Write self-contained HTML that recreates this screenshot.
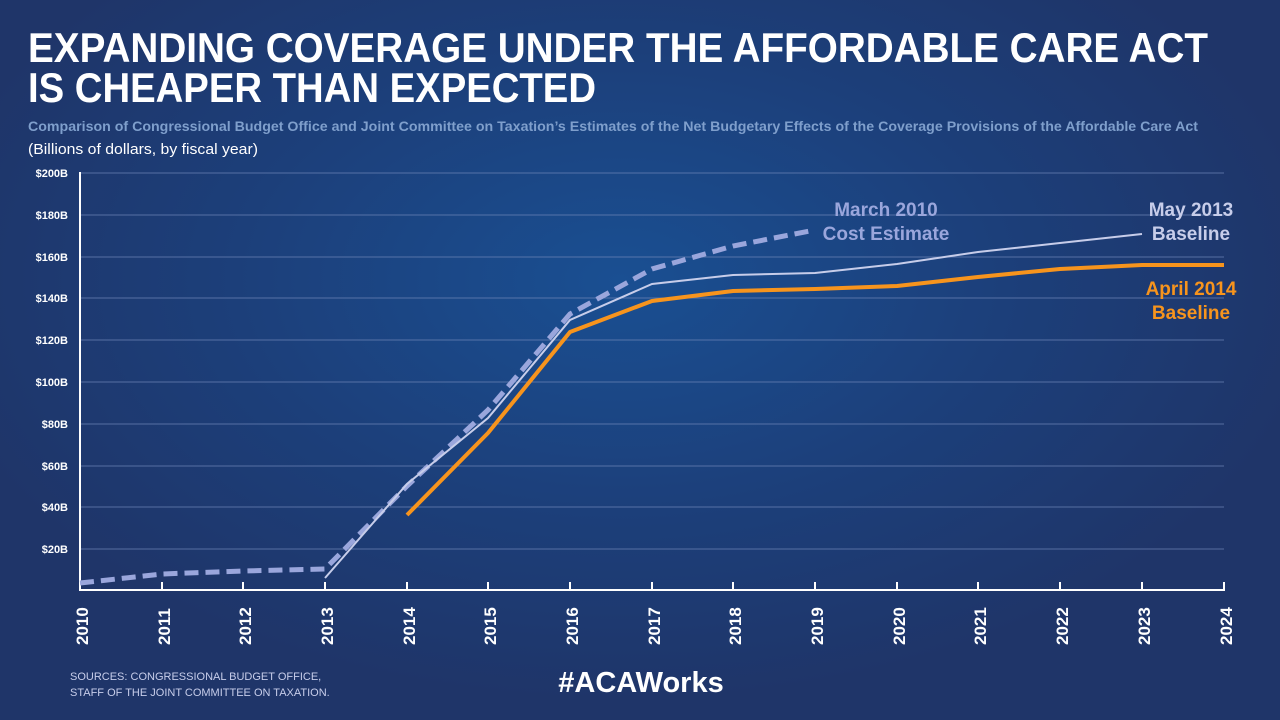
<!DOCTYPE html>
<html><head><meta charset="utf-8"><style>
html,body{margin:0;padding:0;width:1280px;height:720px;overflow:hidden}
body{background:radial-gradient(ellipse 700px 420px at 620px 280px,#1a4f92 0%,#1c3f7a 55%,#1f3569 100%);font-family:"Liberation Sans",sans-serif}
</style></head><body>
<svg width="1280" height="720" viewBox="0 0 1280 720" xmlns="http://www.w3.org/2000/svg" font-family="Liberation Sans, sans-serif">
<g fill="#ffffff" font-weight="bold" font-size="42">
<text x="28" y="62" textLength="1180" lengthAdjust="spacingAndGlyphs">EXPANDING COVERAGE UNDER THE AFFORDABLE CARE ACT</text>
<text x="28" y="102" textLength="568" lengthAdjust="spacingAndGlyphs">IS CHEAPER THAN EXPECTED</text>
</g>
<text x="28" y="131" fill="#7f9fcc" font-weight="bold" font-size="13.5" textLength="1170" lengthAdjust="spacingAndGlyphs">Comparison of Congressional Budget Office and Joint Committee on Taxation’s Estimates of the Net Budgetary Effects of the Coverage Provisions of the Affordable Care Act</text>
<text x="28" y="154" fill="#ffffff" font-size="15" textLength="230" lengthAdjust="spacingAndGlyphs">(Billions of dollars, by fiscal year)</text>
<!-- grid -->
<g stroke="#6f86b8" stroke-width="1" opacity="0.7">
<line x1="80" y1="173" x2="1224" y2="173"/><line x1="80" y1="215" x2="1224" y2="215"/>
<line x1="80" y1="257" x2="1224" y2="257"/><line x1="80" y1="298" x2="1224" y2="298"/>
<line x1="80" y1="340" x2="1224" y2="340"/><line x1="80" y1="382" x2="1224" y2="382"/>
<line x1="80" y1="424" x2="1224" y2="424"/><line x1="80" y1="466" x2="1224" y2="466"/>
<line x1="80" y1="507" x2="1224" y2="507"/><line x1="80" y1="549" x2="1224" y2="549"/>
</g>
<g fill="#ffffff" font-weight="bold" font-size="11" text-anchor="end">
<text x="68" y="177">$200B</text><text x="68" y="219">$180B</text><text x="68" y="261">$160B</text>
<text x="68" y="302">$140B</text><text x="68" y="344">$120B</text><text x="68" y="386">$100B</text>
<text x="68" y="428">$80B</text><text x="68" y="470">$60B</text><text x="68" y="511">$40B</text><text x="68" y="553">$20B</text>
</g>
<g stroke="#ffffff" stroke-width="2">
<line x1="80" y1="172" x2="80" y2="591"/><line x1="79" y1="590" x2="1225" y2="590"/>
<line x1="162" y1="582" x2="162" y2="590"/><line x1="243" y1="582" x2="243" y2="590"/><line x1="325" y1="582" x2="325" y2="590"/>
<line x1="407" y1="582" x2="407" y2="590"/><line x1="488" y1="582" x2="488" y2="590"/><line x1="570" y1="582" x2="570" y2="590"/>
<line x1="652" y1="582" x2="652" y2="590"/><line x1="733" y1="582" x2="733" y2="590"/><line x1="815" y1="582" x2="815" y2="590"/>
<line x1="897" y1="582" x2="897" y2="590"/><line x1="978" y1="582" x2="978" y2="590"/><line x1="1060" y1="582" x2="1060" y2="590"/>
<line x1="1142" y1="582" x2="1142" y2="590"/><line x1="1224" y1="582" x2="1224" y2="590"/>
</g>
<g fill="#ffffff" font-weight="bold" font-size="17">
<text transform="translate(88,645) rotate(-90)">2010</text><text transform="translate(170,645) rotate(-90)">2011</text>
<text transform="translate(251,645) rotate(-90)">2012</text><text transform="translate(333,645) rotate(-90)">2013</text>
<text transform="translate(415,645) rotate(-90)">2014</text><text transform="translate(496,645) rotate(-90)">2015</text>
<text transform="translate(578,645) rotate(-90)">2016</text><text transform="translate(660,645) rotate(-90)">2017</text>
<text transform="translate(741,645) rotate(-90)">2018</text><text transform="translate(823,645) rotate(-90)">2019</text>
<text transform="translate(905,645) rotate(-90)">2020</text><text transform="translate(986,645) rotate(-90)">2021</text>
<text transform="translate(1068,645) rotate(-90)">2022</text><text transform="translate(1150,645) rotate(-90)">2023</text>
<text transform="translate(1232,645) rotate(-90)">2024</text>
</g>
<polyline fill="none" stroke="#9aa6dc" stroke-width="5" stroke-dasharray="14,7" points="80,583 162,574 243,571 325,569 407,486 488,410 570,314 652,269 733,246 815,230"/>
<polyline fill="none" stroke="#c7cdea" stroke-width="2" points="325,578 407,484 488,418 570,320 652,284 733,275 815,273 897,264 978,252 1060,243 1142,234"/>
<polyline fill="none" stroke="#f7941d" stroke-width="4" stroke-linejoin="round" points="407,515 488,433 570,332 652,301 733,291 815,289 897,286 978,277 1060,269 1142,265 1224,265"/>
<g font-weight="bold" font-size="19" text-anchor="middle">
<text x="886" y="216" fill="#9aa6dc">March 2010</text><text x="886" y="240" fill="#9aa6dc">Cost Estimate</text>
<text x="1191" y="216" fill="#c7cdea">May 2013</text><text x="1191" y="240" fill="#c7cdea">Baseline</text>
<text x="1191" y="295" fill="#f7941d">April 2014</text><text x="1191" y="319" fill="#f7941d">Baseline</text>
</g>
<g fill="#c7cdea" font-size="11">
<text x="70" y="680">SOURCES: CONGRESSIONAL BUDGET OFFICE,</text>
<text x="70" y="696">STAFF OF THE JOINT COMMITTEE ON TAXATION.</text>
</g>
<text x="641" y="692" fill="#ffffff" font-weight="bold" font-size="29" text-anchor="middle">#ACAWorks</text>
</svg>
</body></html>
